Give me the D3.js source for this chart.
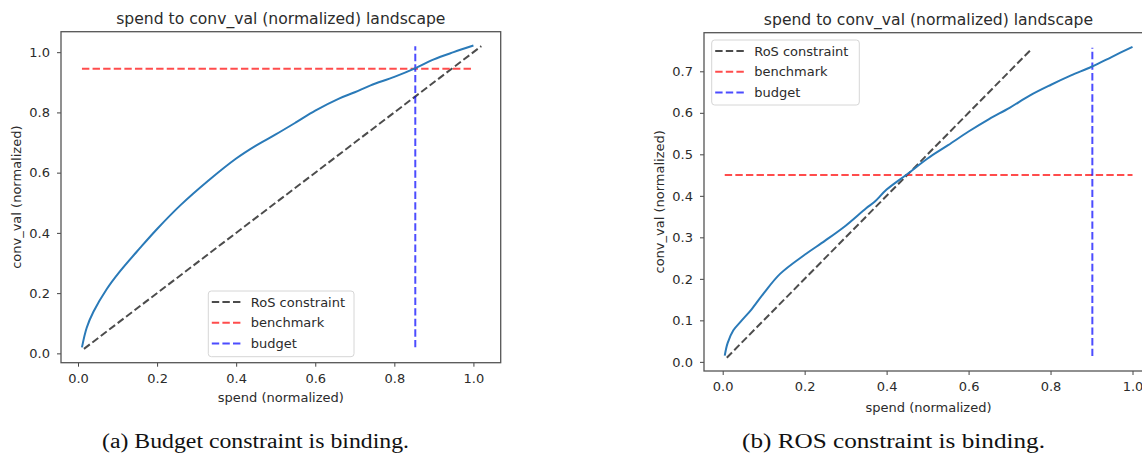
<!DOCTYPE html>
<html>
<head>
<meta charset="utf-8">
<script src="https://cdn.jsdelivr.net/npm/d3@7"></script>
<style>
  html, body { margin: 0; padding: 0; background: #fff; }
  svg { display: block; }
  .tick text { font-family: "DejaVu Sans", sans-serif; font-size: 13px; fill: #2b2b2b; }
</style>
</head>
<body>
<div id="chart"></div>
<script>
// values
const leftSpend = [0.01, 0.022, 0.039, 0.072, 0.106, 0.157, 0.20, 0.26, 0.33, 0.40, 0.45, 0.50, 0.55, 0.60, 0.66, 0.70, 0.74, 0.80, 0.855, 0.90, 0.95, 1.00];
const leftConv  = [0.02, 0.085, 0.138, 0.212, 0.272, 0.35, 0.413, 0.493, 0.574, 0.647, 0.69, 0.727, 0.766, 0.806, 0.846, 0.867, 0.89, 0.918, 0.948, 0.976, 1.0, 1.022];

const rightSpend = [0.005, 0.012, 0.026, 0.045, 0.07, 0.10, 0.14, 0.20, 0.25, 0.30, 0.35, 0.37, 0.40, 0.45, 0.50, 0.55, 0.60, 0.65, 0.70, 0.75, 0.80, 0.85, 0.90, 0.95, 1.00];
const rightConv  = [0.015, 0.045, 0.076, 0.098, 0.126, 0.165, 0.212, 0.258, 0.292, 0.328, 0.37, 0.385, 0.415, 0.452, 0.49, 0.522, 0.555, 0.585, 0.612, 0.642, 0.667, 0.69, 0.711, 0.735, 0.759];

// RoS constraint is the line conv_val = spend between these spends
const leftRos = [0.015, 1.02];
const rightRos = [0.01, 0.755];
// benchmark: level and spend extent
const leftBenchmark = 0.945, leftBenchmarkSpan = [0.01, 1.0];
const rightBenchmark = 0.45, rightBenchmarkSpan = [0.005, 1.0];
// budget: spend and conv_val extent
const leftBudget = 0.853, leftBudgetSpan = [0.02, 1.02];
const rightBudget = 0.902, rightBudgetSpan = [0.014, 0.757];

const xTicks = [0, 0.2, 0.4, 0.6, 0.8, 1.0];
const leftYTicks = [0, 0.2, 0.4, 0.6, 0.8, 1.0];
const rightYTicks = [0, 0.1, 0.2, 0.3, 0.4, 0.5, 0.6, 0.7];

const legendLabels = ["RoS constraint", "benchmark", "budget"];
const legendColors = ["#000", "#f00", "#00f"];
const titleText = "spend to conv_val (normalized) landscape";
const xLabel = "spend (normalized)";
const yLabel = "conv_val (normalized)";
const captions = ["(a) Budget constraint is binding.", "(b) ROS constraint is binding."];

const width = 1142, height = 455;
const font = '"DejaVu Sans", sans-serif';
const textColor = "#2b2b2b";

const svg = d3.select("#chart").append("svg")
  .attr("width", width)
  .attr("height", height);

const panels = [
  {
    frame: { x0: 61, x1: 500.7, y0: 31.7, y1: 362.7 },
    xDomain: [-0.043, 1.069], yDomain: [-0.031, 1.068],
    yTicks: leftYTicks,
    spend: leftSpend, conv: leftConv,
    ros: leftRos,
    bench: leftBenchmark, benchSpan: leftBenchmarkSpan,
    budget: leftBudget, budgetSpan: leftBudgetSpan,
    legend: { x: 208.3, y: 291, w: 145.7, h: 65.7 },
    titleY: 23.5, xLabelY: 402, yLabelX: 16,
    caption: captions[0], captionX: 255.5, captionW: 307
  },
  {
    frame: { x0: 704, x1: 1153, y0: 32.7, y1: 371 },
    xDomain: [-0.0456, 1.05], yDomain: [-0.022, 0.793],
    yTicks: rightYTicks,
    spend: rightSpend, conv: rightConv,
    ros: rightRos,
    bench: rightBenchmark, benchSpan: rightBenchmarkSpan,
    budget: rightBudget, budgetSpan: rightBudgetSpan,
    legend: { x: 711.7, y: 40, w: 147.6, h: 65 },
    titleY: 25, xLabelY: 411.5, yLabelX: 659,
    caption: captions[1], captionX: 893.5, captionW: 303
  }
];

panels.forEach(drawPanel);

function drawPanel(p) {
  const f = p.frame;
  const x = d3.scaleLinear().domain(p.xDomain).range([f.x0, f.x1]);
  const y = d3.scaleLinear().domain(p.yDomain).range([f.y1, f.y0]);
  const g = svg.append("g");

  const clipId = "clip" + Math.round(f.x0);
  g.append("clipPath").attr("id", clipId)
    .append("rect")
    .attr("x", f.x0).attr("y", f.y0)
    .attr("width", f.x1 - f.x0).attr("height", f.y1 - f.y0);

  const plot = g.append("g").attr("clip-path", "url(#" + clipId + ")");
  const seg = d3.line().x(d => x(d[0])).y(d => y(d[1]));

  const dashed = (pts, color) => plot.append("path")
    .attr("d", seg(pts))
    .attr("fill", "none").attr("stroke", color).attr("stroke-opacity", 0.7)
    .attr("stroke-width", 2).attr("stroke-dasharray", "7.4,3.2");

  // RoS constraint, benchmark, budget
  dashed([[p.ros[0], p.ros[0]], [p.ros[1], p.ros[1]]], legendColors[0]);
  dashed([[p.benchSpan[0], p.bench], [p.benchSpan[1], p.bench]], legendColors[1]);
  dashed([[p.budget, p.budgetSpan[0]], [p.budget, p.budgetSpan[1]]], legendColors[2]);

  // landscape curve
  const curve = d3.line()
    .x((d, i) => x(p.spend[i]))
    .y(d => y(d))
    .curve(d3.curveCatmullRom.alpha(0.5));
  plot.append("path")
    .datum(p.conv)
    .attr("d", curve)
    .attr("fill", "none")
    .attr("stroke", "#2a7ab8")
    .attr("stroke-width", 2);

  // axes
  const xAxis = d3.axisBottom(x).tickValues(xTicks).tickFormat(d3.format(".1f"))
    .tickSize(4).tickPadding(7).tickSizeOuter(0);
  const yAxis = d3.axisLeft(y).tickValues(p.yTicks).tickFormat(d3.format(".1f"))
    .tickSize(4).tickPadding(7).tickSizeOuter(0);

  const gx = g.append("g").attr("transform", "translate(0," + f.y1 + ")").call(xAxis);
  const gy = g.append("g").attr("transform", "translate(" + f.x0 + ",0)").call(yAxis);
  [gx, gy].forEach(a => {
    a.select(".domain").remove();
    a.selectAll(".tick line").attr("stroke", "#444").attr("stroke-width", 1);
  });

  // frame
  g.append("rect")
    .attr("x", f.x0).attr("y", f.y0)
    .attr("width", f.x1 - f.x0).attr("height", f.y1 - f.y0)
    .attr("fill", "none").attr("stroke", "#555").attr("stroke-width", 1.3);

  // legend
  const L = p.legend;
  const lg = g.append("g");
  lg.append("rect")
    .attr("x", L.x).attr("y", L.y).attr("width", L.w).attr("height", L.h)
    .attr("rx", 3).attr("fill", "#fff").attr("fill-opacity", 0.85)
    .attr("stroke", "#d6d6d6").attr("stroke-width", 1);
  legendLabels.forEach((lab, i) => {
    const cy = L.y + 11 + i * 20.8;
    lg.append("line")
      .attr("x1", L.x + 3.5).attr("x2", L.x + 32.5)
      .attr("y1", cy).attr("y2", cy)
      .attr("stroke", legendColors[i]).attr("stroke-opacity", 0.7)
      .attr("stroke-width", 2).attr("stroke-dasharray", "7.4,3.2");
    lg.append("text")
      .attr("x", L.x + 42.5).attr("y", cy + 4.6)
      .attr("font-family", font).attr("font-size", 13).attr("fill", textColor)
      .text(lab);
  });

  const cx = (f.x0 + f.x1) / 2;
  // title
  g.append("text")
    .attr("x", cx).attr("y", p.titleY)
    .attr("text-anchor", "middle")
    .attr("font-family", font).attr("font-size", 15.6).attr("fill", textColor)
    .text(titleText);

  // axis labels
  g.append("text")
    .attr("x", cx).attr("y", p.xLabelY)
    .attr("text-anchor", "middle")
    .attr("font-family", font).attr("font-size", 13).attr("fill", textColor)
    .text(xLabel);
  g.append("text")
    .attr("transform", "translate(" + (p.yLabelX + 4.5) + "," + ((f.y0 + f.y1) / 2) + ") rotate(-90)")
    .attr("text-anchor", "middle")
    .attr("font-family", font).attr("font-size", 13).attr("fill", textColor)
    .text(yLabel);

  // caption
  svg.append("text")
    .attr("x", p.captionX).attr("y", 448)
    .attr("text-anchor", "middle")
    .attr("font-family", '"Liberation Serif", "Times New Roman", serif')
    .attr("font-size", 20).attr("fill", "#111")
    .attr("textLength", p.captionW)
    .attr("lengthAdjust", "spacingAndGlyphs")
    .text(p.caption);
}
</script>
</body>
</html>
